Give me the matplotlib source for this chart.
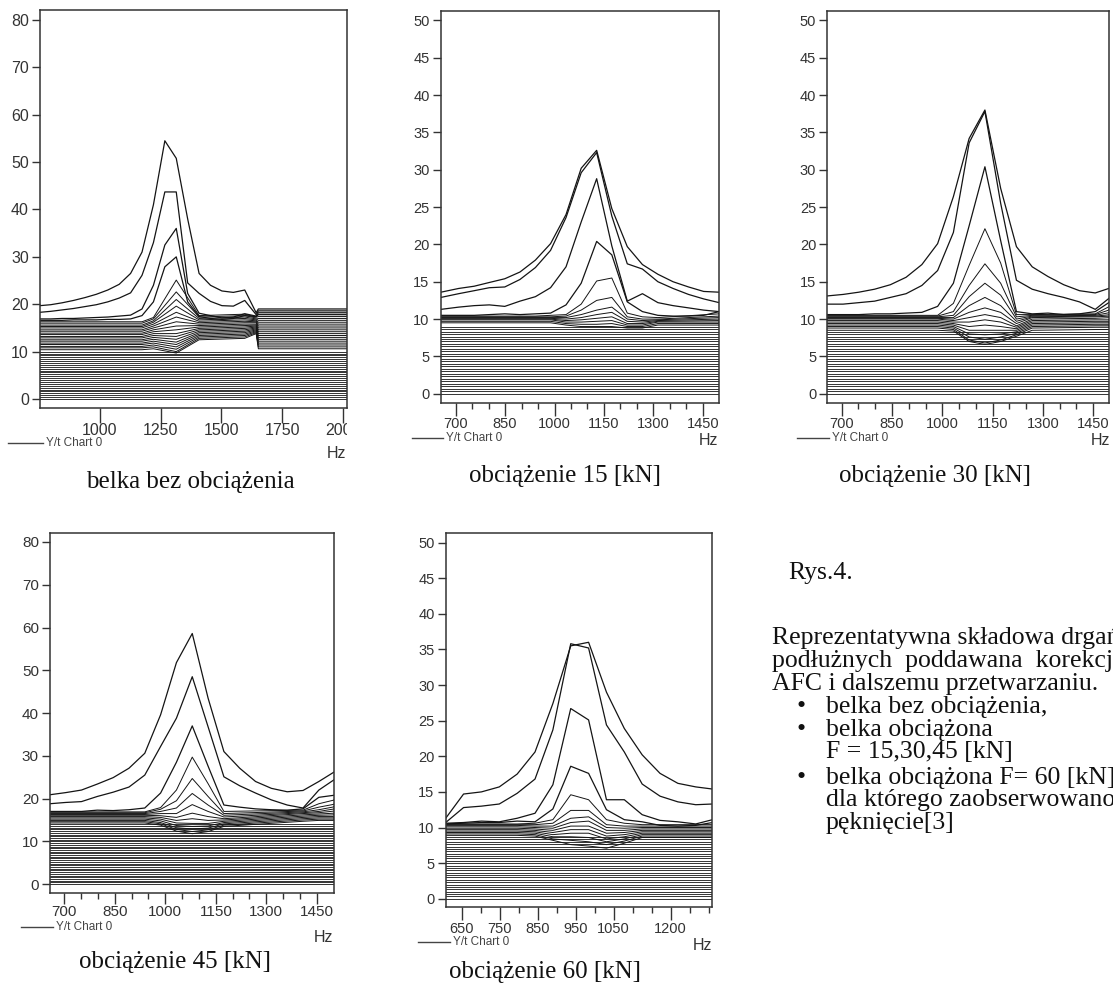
import matplotlib
matplotlib.use('Agg')
import matplotlib.pyplot as plt
import matplotlib.transforms as mtransforms
from matplotlib.lines import Line2D

plt.rcParams['font.family'] = ['Liberation Sans', 'DejaVu Sans']

# ---------------- data ----------------
# panel: belka bez obciazenia
freq_0 = [753, 797, 844, 891, 938, 985, 1032, 1079, 1126, 1173, 1220, 1267,
          1314, 1361, 1408, 1455, 1502, 1549, 1596, 1643, 1652, 2017]
curves_0 = [
    [19.7, 19.9, 20.3, 20.8, 21.4, 22.1, 23.0, 24.2, 26.5, 31.0, 41.0, 54.5,
     50.8, 38.0, 26.5, 24.0, 22.8, 22.5, 23.0, 18.2, 19.0, 19.0],
    [18.3, 18.5, 18.8, 19.1, 19.5, 19.9, 20.5, 21.3, 22.4, 26.1, 33.0, 43.7,
     43.7, 24.5, 22.3, 20.6, 19.7, 19.6, 20.8, 17.8, 18.6, 18.6],
    [16.9, 16.9, 17.0, 17.0, 17.1, 17.2, 17.3, 17.5, 17.7, 19.0, 24.0, 32.5,
     36.0, 22.3, 18.1, 17.6, 17.1, 17.3, 18.0, 17.5, 18.2, 18.2],
    [16.6, 16.6, 16.6, 16.7, 16.7, 16.7, 16.8, 16.8, 16.9, 17.6, 20.5, 27.9,
     30.0, 20.5, 17.4, 17.0, 16.8, 17.0, 17.6, 17.4, 17.8, 17.8],
]
fan_x_0 = [1173, 1220, 1314, 1408, 1596, 1643, 1652]
fan_0 = [
    [16.3, 17.2, 25.1, 17.6, 17.9, 17.3, 17.4],
    [16.0, 16.9, 22.6, 17.3, 17.6, 17.1, 17.0],
    [15.6, 16.5, 21.0, 17.0, 17.3, 16.9, 16.6],
    [15.3, 16.2, 19.6, 16.7, 17.0, 16.7, 16.2],
    [15.0, 15.8, 18.3, 16.4, 16.7, 16.5, 15.8],
    [14.6, 15.4, 17.3, 16.1, 16.4, 16.3, 15.4],
    [14.3, 15.0, 16.3, 15.8, 16.1, 16.1, 15.0],
    [13.9, 14.6, 15.4, 15.5, 15.8, 15.8, 14.6],
    [13.6, 14.2, 14.6, 15.2, 15.5, 15.6, 14.2],
    [13.2, 13.8, 13.8, 14.9, 15.2, 15.4, 13.8],
    [12.9, 13.4, 13.2, 14.6, 14.9, 15.2, 13.4],
    [12.5, 13.0, 12.6, 14.3, 14.6, 15.0, 13.0],
    [12.2, 12.6, 12.0, 14.0, 14.3, 14.8, 12.6],
    [11.8, 12.2, 11.5, 13.7, 14.0, 14.6, 12.2],
    [11.5, 11.8, 11.0, 13.4, 13.7, 14.4, 11.8],
    [11.1, 11.4, 10.5, 13.1, 13.4, 14.2, 11.4],
    [10.8, 11.0, 10.0, 12.8, 13.1, 14.0, 11.0],
    [10.4, 10.6, 9.7, 12.5, 12.8, 13.8, 10.6],
]
flat_0 = [0.0, 0.4, 0.8, 1.2, 1.6, 2.0, 2.4, 2.8, 3.2, 3.6, 4.0, 4.4, 4.8,
          5.2, 5.6, 6.0, 6.4, 6.8, 7.2, 7.6, 8.0, 8.4, 8.8, 9.2, 9.6, 10.0]

# panel: obciazenie 15 kN
freq_1 = [655, 709, 756, 802, 849, 895, 942, 988, 1035, 1081, 1128, 1174,
          1221, 1267, 1314, 1360, 1407, 1453, 1500]
curves_1 = [
    [13.6, 14.1, 14.4, 14.9, 15.4, 16.3, 17.9, 20.1, 24.0, 30.2, 32.6, 24.8,
     19.7, 17.3, 16.0, 15.0, 14.3, 13.7, 13.6],
    [12.9, 13.4, 13.8, 14.2, 14.3, 15.3, 16.9, 19.2, 23.6, 29.6, 32.3, 23.8,
     17.4, 16.7, 15.0, 14.1, 13.3, 12.7, 12.2],
    [11.3, 11.6, 11.8, 11.9, 11.7, 12.4, 13.0, 14.2, 17.0, 23.0, 28.8, 19.8,
     12.4, 13.4, 12.2, 11.8, 11.5, 11.2, 11.0],
    [10.5, 10.5, 10.5, 10.6, 10.7, 10.6, 10.7, 10.8, 11.9, 14.8, 20.4, 18.6,
     12.3, 11.0, 10.5, 10.4, 10.4, 10.5, 11.0],
]
fan_x_1 = [942, 988, 1035, 1081, 1128, 1174, 1221, 1267, 1314, 1500]
fan_1 = [
    [10.4, 10.5, 10.6, 12.0, 15.1, 15.5, 10.8, 10.3, 10.2, 10.7],
    [10.3, 10.3, 10.4, 11.2, 12.5, 12.9, 10.3, 10.0, 10.0, 10.4],
    [10.2, 10.2, 10.2, 10.6, 11.2, 11.6, 10.0, 9.8, 9.9, 10.2],
    [10.1, 10.1, 10.0, 10.2, 10.6, 10.9, 9.7, 9.6, 9.8, 10.0],
    [10.0, 10.0, 9.8, 9.9, 10.1, 10.3, 9.4, 9.4, 9.7, 9.8],
    [9.9, 9.9, 9.6, 9.6, 9.7, 9.8, 9.2, 9.2, 9.6, 9.6],
    [9.7, 9.7, 9.4, 9.3, 9.3, 9.4, 9.0, 9.0, 9.4, 9.4],
    [9.5, 9.5, 9.2, 9.0, 9.0, 9.0, 8.8, 8.8, 9.2, 9.2],
]
flat_1 = [0.0, 0.33, 0.66, 1.0, 1.33, 1.66, 2.0, 2.33, 2.66, 3.0, 3.33,
          3.66, 4.0, 4.33, 4.66, 5.0, 5.33, 5.66, 6.0, 6.33, 6.66, 7.0,
          7.33, 7.66, 8.0, 8.33, 8.66, 9.0]

# panel: obciazenie 30 kN
freq_2 = [657, 704, 751, 798, 845, 892, 939, 986, 1033, 1080, 1127, 1174,
          1221, 1268, 1315, 1362, 1409, 1456, 1503]
curves_2 = [
    [13.1, 13.3, 13.6, 14.0, 14.6, 15.6, 17.3, 20.1, 26.4, 34.2, 38.0, 27.5,
     19.7, 17.0, 15.7, 14.6, 13.8, 13.5, 14.2],
    [12.0, 12.0, 12.2, 12.4, 12.9, 13.4, 14.5, 16.5, 21.6, 33.6, 37.8, 25.5,
     15.2, 14.0, 13.4, 12.9, 12.3, 11.3, 13.0],
    [10.6, 10.6, 10.6, 10.7, 10.7, 10.8, 10.9, 11.7, 14.8, 22.5, 30.4, 20.5,
     11.0, 10.7, 10.8, 10.6, 10.7, 11.0, 12.4],
]
fan_x_2 = [986, 1033, 1080, 1127, 1174, 1221, 1268, 1456, 1503]
fan_2 = [
    [10.5, 12.1, 17.2, 22.1, 17.5, 10.6, 10.6, 10.7, 11.8],
    [10.4, 11.0, 14.5, 17.4, 14.8, 10.3, 10.5, 10.6, 11.3],
    [10.3, 10.5, 13.0, 14.8, 13.2, 10.0, 10.4, 10.5, 10.9],
    [10.2, 10.2, 11.8, 12.9, 11.8, 9.7, 10.3, 10.4, 10.6],
    [10.1, 10.0, 10.9, 11.5, 10.9, 9.4, 10.2, 10.3, 10.4],
    [10.0, 9.8, 10.2, 10.6, 10.2, 9.1, 10.0, 10.1, 10.2],
    [9.8, 9.6, 9.6, 9.9, 9.6, 8.9, 9.8, 9.9, 9.9],
    [9.6, 9.4, 9.0, 9.2, 9.0, 8.7, 9.6, 9.7, 9.7],
    [9.4, 9.2, 8.5, 8.5, 8.5, 8.5, 9.4, 9.5, 9.5],
    [9.2, 9.0, 8.0, 7.9, 8.0, 8.3, 9.2, 9.3, 9.3],
    [9.0, 8.8, 7.6, 7.3, 7.6, 8.1, 9.0, 9.1, 9.1],
    [8.8, 8.6, 7.2, 6.8, 7.2, 7.9, 8.8, 8.9, 8.9],
    [8.5, 8.4, 7.0, 6.6, 7.0, 7.7, 8.5, 8.6, 8.6],
]
flat_2 = [0.0, 0.33, 0.66, 1.0, 1.33, 1.66, 2.0, 2.33, 2.66, 3.0, 3.33,
          3.66, 4.0, 4.33, 4.66, 5.0, 5.33, 5.66, 6.0, 6.33, 6.66, 7.0,
          7.33, 7.66, 8.0, 8.25]

# panel: obciazenie 45 kN
freq_3 = [657, 704, 751, 798, 845, 892, 939, 986, 1033, 1080, 1127, 1174,
          1221, 1268, 1315, 1362, 1409, 1456, 1503]
curves_3 = [
    [20.9, 21.4, 22.0, 23.4, 24.9, 27.1, 30.6, 39.6, 51.8, 58.6, 43.5, 31.0,
     27.1, 24.0, 22.4, 21.6, 21.9, 24.0, 26.3],
    [18.8, 19.1, 19.3, 20.5, 21.5, 22.7, 25.5, 32.2, 38.8, 48.5, 36.8, 25.1,
     23.0, 21.3, 19.7, 18.5, 17.8, 22.0, 24.5],
    [17.0, 17.0, 17.0, 17.3, 17.2, 17.4, 17.8, 21.3, 28.5, 37.0, 27.6, 18.5,
     18.0, 17.6, 17.4, 17.3, 17.6, 20.3, 20.8],
]
fan_x_3 = [939, 986, 1033, 1080, 1127, 1174, 1409, 1456, 1503]
fan_3 = [
    [16.9, 17.9, 22.0, 29.7, 23.5, 17.0, 17.3, 18.8, 19.7],
    [16.7, 17.5, 19.5, 24.7, 20.5, 16.5, 17.1, 18.0, 18.7],
    [16.5, 17.0, 17.8, 21.2, 18.5, 16.1, 16.9, 17.4, 18.1],
    [16.3, 16.5, 16.5, 18.6, 17.0, 15.7, 16.7, 17.0, 17.6],
    [16.1, 16.0, 15.6, 16.6, 15.8, 15.3, 16.5, 16.7, 17.1],
    [15.8, 15.6, 14.9, 15.3, 14.9, 15.0, 16.2, 16.4, 16.6],
    [15.5, 15.2, 14.3, 14.2, 14.2, 14.7, 15.9, 16.1, 16.2],
    [15.2, 14.8, 13.7, 13.5, 13.6, 14.4, 15.6, 15.8, 15.8],
    [14.9, 14.4, 13.2, 12.9, 13.1, 14.1, 15.3, 15.5, 15.5],
    [14.6, 14.1, 12.8, 12.3, 12.7, 13.8, 15.0, 15.2, 15.2],
    [14.3, 13.8, 12.4, 11.8, 12.3, 13.5, 14.7, 14.9, 14.9],
]
flat_3 = [0.0, 0.4, 0.8, 1.2, 1.6, 2.0, 2.4, 2.8, 3.2, 3.6, 4.0, 4.4, 4.8,
          5.2, 5.6, 6.0, 6.4, 6.8, 7.2, 7.6, 8.0, 8.4, 8.8, 9.2, 9.6, 10.0,
          10.4, 10.8, 11.2, 11.6, 12.0, 12.4, 12.8, 13.2, 13.6, 14.0]

# panel: obciazenie 60 kN
freq_4 = [608, 655, 702, 749, 796, 843, 890, 937, 984, 1031, 1078, 1125,
          1172, 1219, 1266, 1310]
curves_4 = [
    [11.3, 14.7, 15.0, 15.7, 17.5, 20.6, 27.4, 35.5, 36.0, 29.0, 23.9, 20.2,
     17.6, 16.2, 15.7, 15.4],
    [10.7, 12.8, 13.0, 13.3, 14.8, 16.8, 23.7, 35.8, 35.2, 24.4, 20.6, 16.1,
     14.4, 13.6, 13.2, 13.3],
    [10.6, 10.7, 10.9, 10.8, 11.3, 12.0, 16.0, 26.7, 25.1, 13.9, 13.9, 11.8,
     11.0, 10.8, 10.5, 11.1],
    [10.5, 10.6, 10.7, 10.7, 10.9, 10.8, 12.6, 18.6, 17.6, 12.5, 11.1, 10.8,
     10.3, 10.2, 10.3, 10.7],
]
fan_x_4 = [796, 843, 890, 937, 984, 1031, 1078, 1125]
fan_4 = [
    [10.5, 10.6, 11.1, 14.6, 13.9, 11.1, 10.6, 10.4],
    [10.4, 10.4, 10.6, 12.4, 12.4, 10.4, 10.2, 10.2],
    [10.3, 10.2, 10.2, 11.3, 11.5, 10.0, 9.9, 10.0],
    [10.1, 10.0, 9.9, 10.7, 10.9, 9.6, 9.6, 9.8],
    [9.9, 9.8, 9.6, 10.2, 10.2, 9.2, 9.3, 9.6],
    [9.7, 9.6, 9.3, 9.7, 9.7, 8.8, 9.0, 9.4],
    [9.5, 9.4, 9.0, 9.2, 9.2, 8.4, 8.7, 9.2],
    [9.3, 9.2, 8.7, 8.7, 8.6, 8.0, 8.4, 9.0],
    [9.1, 9.0, 8.4, 8.2, 8.0, 7.6, 8.1, 8.8],
    [8.9, 8.8, 8.2, 7.6, 7.4, 7.1, 7.8, 8.6],
]
flat_4 = [0.0, 0.33, 0.66, 1.0, 1.33, 1.66, 2.0, 2.33, 2.66, 3.0, 3.33,
          3.66, 4.0, 4.33, 4.66, 5.0, 5.33, 5.66, 6.0, 6.33, 6.66, 7.0,
          7.33, 7.66, 8.0, 8.33, 8.6]

captions = ['belka bez obciążenia', 'obciążenie 15 [kN]', 'obciążenie 30 [kN]',
            'obciążenie 45 [kN]', 'obciążenie 60 [kN]']

# ---------------- layout ----------------
W, H = 1113, 991
LINE = '#141414'
GREY = '#333333'


def fx(px):
    return px / W


def fy(py):
    return 1 - py / H


fig = plt.figure(figsize=(W / 100, H / 100), dpi=100)
fig.patch.set_facecolor('white')

minor_a = [750, 800, 900, 950, 1050, 1100, 1200, 1250, 1350, 1400]
panels = [
    dict(box=(40, 10, 347, 408), xlim=(753, 2017), ylim=(-1.9, 82.1),
         yt=range(0, 81, 10), major=[1000, 1250, 1500, 1750, 2000], minor=[],
         fs=11.5, xlen=11, xpad=0, legend=(8, 43, 443), hz=(346, 454), cap=(190, 482)),
    dict(box=(440.7, 10.7, 719, 402.7), xlim=(654.4, 1499.5), ylim=(-1.2, 51.3),
         yt=range(0, 51, 5), major=[700, 850, 1000, 1150, 1300, 1450], minor=minor_a,
         fs=10.5, xlen=9, xpad=1.5, legend=(412, 443, 438), hz=(718, 441), cap=(565, 476)),
    dict(box=(827.3, 10.7, 1109, 402.7), xlim=(657, 1497), ylim=(-1.2, 51.3),
         yt=range(0, 51, 5), major=[700, 850, 1000, 1150, 1300, 1450], minor=minor_a,
         fs=10.5, xlen=9, xpad=1.5, legend=(797, 829, 438), hz=(1110, 441), cap=(935, 476)),
    dict(box=(50, 533, 334, 892.7), xlim=(657.5, 1501), ylim=(-2.0, 82.1),
         yt=range(0, 81, 10), major=[700, 850, 1000, 1150, 1300, 1450], minor=minor_a,
         fs=11, xlen=8, xpad=1, legend=(21, 53, 927), hz=(333, 937), cap=(175, 962)),
    dict(box=(445.7, 533.3, 712.3, 907.3), xlim=(608, 1309.5), ylim=(-1.2, 51.3),
         yt=range(0, 51, 5), major=[650, 750, 850, 950, 1050, 1200],
         minor=[700, 800, 900, 1000, 1100, 1150, 1250, 1300],
         fs=10.5, xlen=9, xpad=1.5, legend=(418, 450, 942), hz=(712, 945), cap=(545, 972)),
]

data = [
    (freq_0, curves_0, fan_x_0, fan_0, flat_0),
    (freq_1, curves_1, fan_x_1, fan_1, flat_1),
    (freq_2, curves_2, fan_x_2, fan_2, flat_2),
    (freq_3, curves_3, fan_x_3, fan_3, flat_3),
    (freq_4, curves_4, fan_x_4, fan_4, flat_4),
]

for i, (p, (freq, curves, fan_x, fan, flat)) in enumerate(zip(panels, data)):
    x0, y0, x1, y1 = p['box']
    ax = fig.add_axes([fx(x0), fy(y1), (x1 - x0) / W, (y1 - y0) / H])

    # flat waterfall lines
    for lv in flat:
        ax.axhline(lv, color=LINE, lw=0.6)
    # lower lines bending around the resonance
    xs = [p['xlim'][0]] + fan_x + [p['xlim'][1]]
    for f in fan:
        ax.plot(xs, [f[0]] + f + [f[-1]], color=LINE, lw=0.7)
    # upper resonance curves
    for c in curves:
        ax.plot(freq, c, color=LINE, lw=0.9)

    ax.set_xlim(*p['xlim'])
    ax.set_ylim(*p['ylim'])
    ax.set_yticks(list(p['yt']))
    ax.set_xticks(p['major'])
    ax.set_xticks(p['minor'], minor=True)
    ax.tick_params(axis='both', which='both', direction='out', color=GREY,
                   width=1.0, labelcolor=GREY, labelsize=p['fs'])
    ax.tick_params(axis='y', length=6, pad=2)
    ax.tick_params(axis='x', which='major', length=p['xlen'], pad=p['xpad'])
    ax.tick_params(axis='x', which='minor', length=4.5)
    for s in ax.spines.values():
        s.set_color(GREY)
        s.set_linewidth(1.1)

    if i == 0:
        clip = mtransforms.TransformedBbox(
            mtransforms.Bbox([[-0.3, -0.3], [1.0, 0.0]]), ax.transAxes)
        for lbl in ax.get_xticklabels():
            lbl.set_clip_box(clip)
            lbl.set_clip_on(True)

    # legend stub under the chart
    lx0, lx1, ly = p['legend']
    fig.add_artist(Line2D([fx(lx0), fx(lx1)], [fy(ly), fy(ly)],
                          transform=fig.transFigure, color='#444444', lw=1.0))
    fig.text(fx(lx1 + 3), fy(ly), 'Y/t Chart 0', fontsize=8.5, color='#444444',
             ha='left', va='center')
    hx, hy = p['hz']
    fig.text(fx(hx), fy(hy), 'Hz', fontsize=11.5, color=GREY, ha='right', va='center')

    cx, cy = p['cap']
    fig.text(fx(cx), fy(cy), captions[i], fontsize=18, family='Liberation Serif',
             color='#111111', ha='center', va='center')

# figure description on the right
serif = dict(family='Liberation Serif', fontsize=18.5, color='#111111', va='center')
fig.text(fx(788), fy(573), 'Rys.4.', ha='left', **serif)
for txt, py in [('Reprezentatywna składowa drgań', 638),
                ('podłużnych  poddawana  korekcji', 661),
                ('AFC i dalszemu przetwarzaniu.', 684)]:
    fig.text(fx(772), fy(py), txt, ha='left', **serif)
for txt, py, bullet in [('belka bez obciążenia,', 707, True),
                        ('belka obciążona', 730, True),
                        ('F = 15,30,45 [kN]', 752, False),
                        ('belka obciążona F= 60 [kN],', 778, True),
                        ('dla którego zaobserwowano', 800, False),
                        ('pęknięcie[3]', 823, False)]:
    if bullet:
        fig.text(fx(801), fy(py), '•', ha='center', **serif)
    fig.text(fx(826), fy(py), txt, ha='left', **serif)

fig.savefig('out.png', dpi=100)
